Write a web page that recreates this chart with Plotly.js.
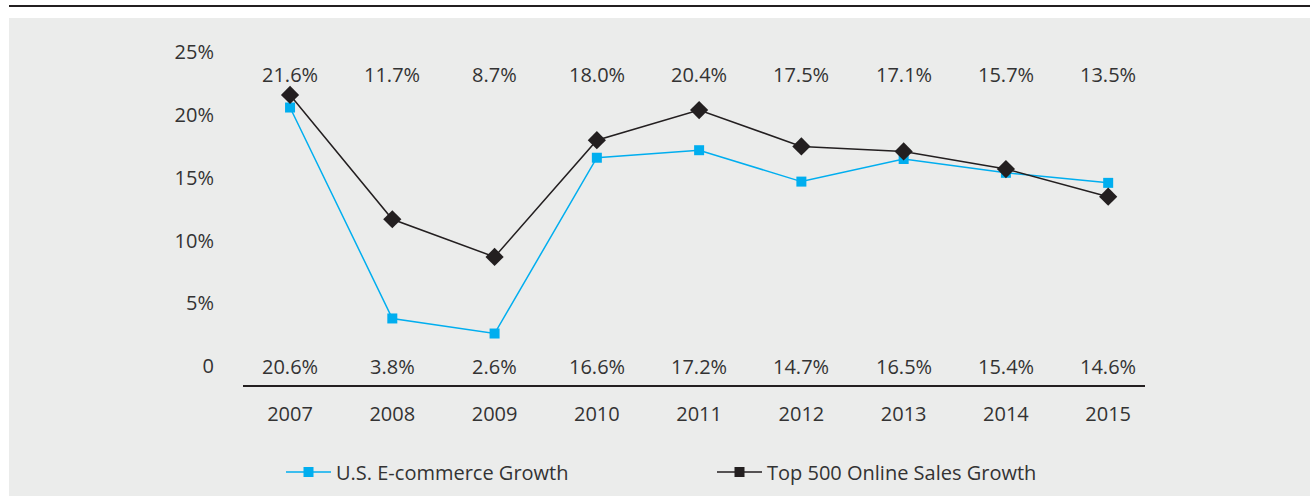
<!DOCTYPE html>
<html>
<head>
<meta charset="utf-8">
<script src="https://cdn.plot.ly/plotly-3.0.1.min.js"></script>
<style>
  html, body { margin: 0; padding: 0; background: #ffffff; }
  #wrap { position: relative; width: 1310px; height: 496px; overflow: hidden; }
  #topline { position: absolute; left: 9px; top: 5px; width: 1301px; height: 2px; background: #231f20; }
  #panel { position: absolute; left: 9px; top: 18px; width: 1301px; height: 478px; background: #ebeceb; }
  #chart { position: absolute; left: 0; top: 0; width: 1310px; height: 496px; }
</style>
</head>
<body>
<div id="wrap">
  <div id="topline"></div>
  <div id="panel"></div>
  <div id="chart"></div>
</div>
<script>
const years = ['2007', '2008', '2009', '2010', '2011', '2012', '2013', '2014', '2015'];
const ecommerceGrowth = [20.6, 3.8, 2.6, 16.6, 17.2, 14.7, 16.5, 15.4, 14.6];
const top500Growth = [21.6, 11.7, 8.7, 18.0, 20.4, 17.5, 17.1, 15.7, 13.5];
const seriesNames = ['U.S. E-commerce Growth', 'Top 500 Online Sales Growth'];
const yTickVals = [0, 5, 10, 15, 20, 25];
const yTickText = ['0', '5%', '10%', '15%', '20%', '25%'];

const textColor = '#333333';
const fontFam = '"Open Sans", "Noto Sans", sans-serif';
const fs = 20;
const blue = '#00aeef';
const black = '#231f20';

const traces = [
  {
    x: years, y: ecommerceGrowth, name: seriesNames[0], showlegend: false,
    type: 'scatter', mode: 'lines+markers',
    line: { color: blue, width: 1.5 },
    marker: { symbol: 'square', size: 10, color: blue },
    hoverinfo: 'skip'
  },
  {
    x: years, y: top500Growth, name: seriesNames[1], showlegend: false,
    type: 'scatter', mode: 'lines+markers',
    line: { color: black, width: 1.5 },
    marker: { symbol: 'diamond', size: 14, color: black },
    hoverinfo: 'skip'
  },
  // legend-only entries (reference legend uses square markers for both)
  {
    x: [null], y: [null], name: seriesNames[0], showlegend: true,
    type: 'scatter', mode: 'lines+markers',
    line: { color: blue, width: 1.5 },
    marker: { symbol: 'square', size: 10, color: blue },
    hoverinfo: 'skip'
  },
  {
    x: [null], y: [null], name: seriesNames[1], showlegend: true,
    type: 'scatter', mode: 'lines+markers',
    line: { color: black, width: 1.5 },
    marker: { symbol: 'square', size: 10, color: black },
    hoverinfo: 'skip'
  }
];

const annotations = [];
years.forEach((yr, i) => {
  annotations.push({
    x: i, y: 23.25, xref: 'x', yref: 'y',
    text: top500Growth[i].toFixed(1) + '%', showarrow: false,
    font: { family: fontFam, size: fs, color: textColor }
  });
  annotations.push({
    x: i, y: 0, xref: 'x', yref: 'y',
    text: ecommerceGrowth[i].toFixed(1) + '%', showarrow: false,
    font: { family: fontFam, size: fs, color: textColor }
  });
});

const layout = {
  width: 1310, height: 496,
  paper_bgcolor: 'rgba(0,0,0,0)', plot_bgcolor: 'rgba(0,0,0,0)',
  margin: { l: 243, r: 165, t: 46, b: 111, autoexpand: false },
  font: { family: fontFam, size: fs, color: textColor },
  showlegend: true,
  legend: {
    orientation: 'h', xref: 'container', yref: 'container',
    x: 281 / 1310, y: (496 - 472) / 496, xanchor: 'left', yanchor: 'middle',
    bgcolor: 'rgba(0,0,0,0)', itemwidth: 45, entrywidth: 371, entrywidthmode: 'pixels',
    font: { family: fontFam, size: fs, color: textColor }
  },
  xaxis: {
    type: 'category', range: [-0.46, 8.36],
    showgrid: false, zeroline: false,
    showline: true, linecolor: black, linewidth: 1.5,
    ticks: '', ticklabelstandoff: 10,
    tickfont: { family: fontFam, size: fs, color: textColor },
    fixedrange: true, automargin: false
  },
  yaxis: {
    range: [-1.5, 25.5],
    tickvals: yTickVals, ticktext: yTickText,
    showgrid: false, zeroline: false, showline: false,
    ticks: '', ticklabelstandoff: 28,
    tickfont: { family: fontFam, size: fs, color: textColor },
    fixedrange: true, automargin: false
  },
  annotations: annotations
};

Plotly.newPlot('chart', traces, layout, { staticPlot: true, displayModeBar: false });
</script>
</body>
</html>
